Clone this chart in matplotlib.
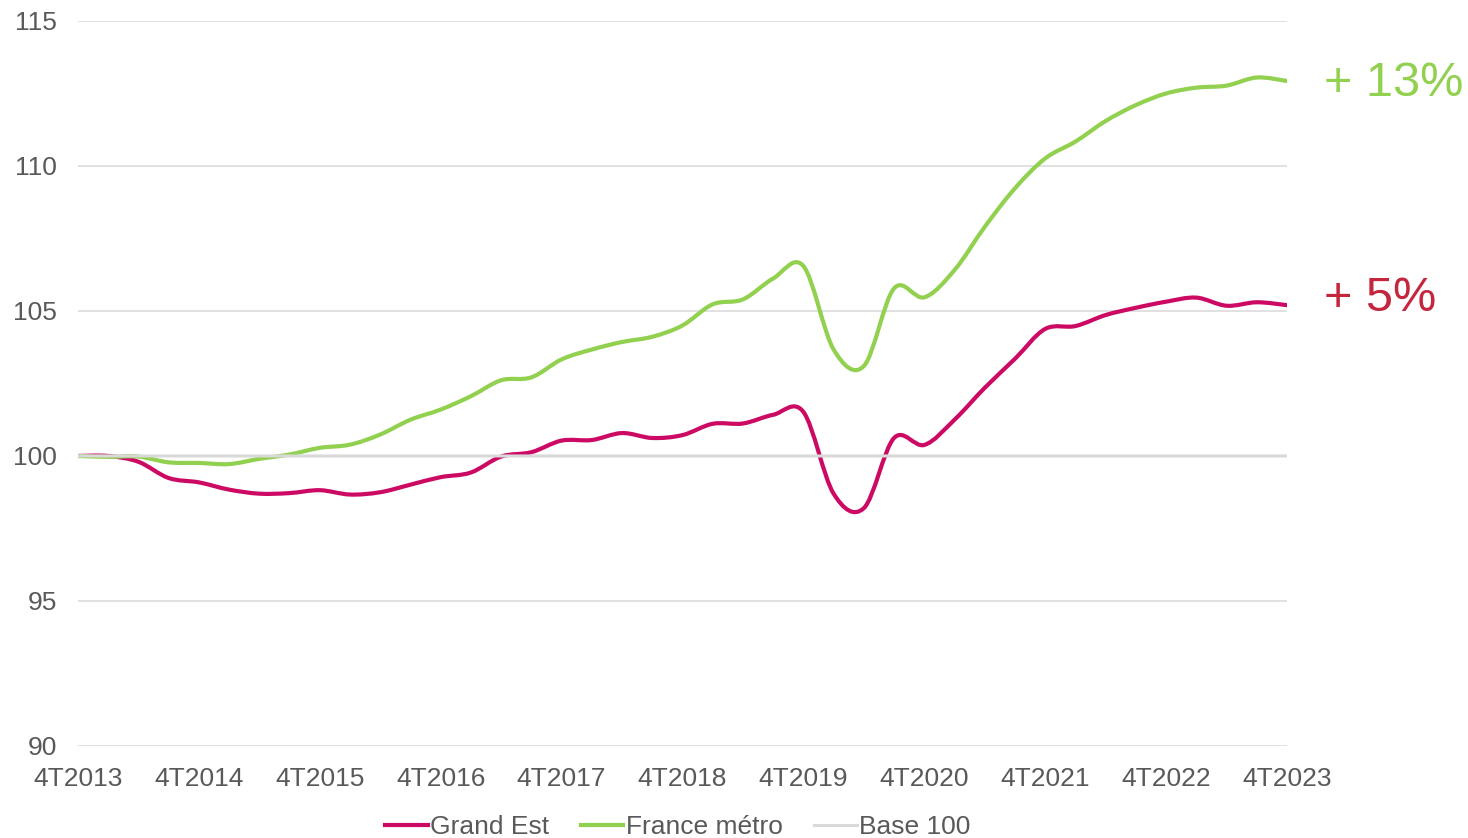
import numpy as np
import matplotlib.pyplot as plt
from matplotlib.path import Path
from matplotlib.patches import PathPatch
from matplotlib.lines import Line2D

plt.rcParams['font.family'] = ['Liberation Sans', 'DejaVu Sans']

# quarterly index, base 100 at 4T2013
tick_labels = ['4T2013', '4T2014', '4T2015', '4T2016', '4T2017', '4T2018',
               '4T2019', '4T2020', '4T2021', '4T2022', '4T2023']

grand_est = [100.0, 100.0, 99.8, 99.24, 99.09, 98.84, 98.7, 98.72, 98.82, 98.67,
             98.75, 99.01, 99.27, 99.43, 99.98, 100.13, 100.53, 100.55, 100.79, 100.62,
             100.72, 101.11, 101.12, 101.42, 101.52, 98.7, 98.2, 100.62, 100.38, 101.25,
             102.35, 103.35, 104.38, 104.48, 104.86, 105.11, 105.32, 105.46, 105.18, 105.3,
             105.2]

france = [100.0, 99.97, 99.98, 99.78, 99.76, 99.72, 99.9, 100.05, 100.28, 100.39,
          100.74, 101.25, 101.6, 102.06, 102.61, 102.71, 103.33, 103.67, 103.93, 104.11,
          104.5, 105.23, 105.4, 106.12, 106.55, 103.67, 103.1, 105.78, 105.47, 106.41,
          107.9, 109.23, 110.26, 110.84, 111.55, 112.1, 112.5, 112.7, 112.77, 113.05,
          112.93]

base = [100.0] * len(grand_est)

PINK = '#CC0A64'
GREEN = '#92D050'
GREY = '#D9D9D9'
TXT = '#595959'


def smooth_path(x, y):
    # excel-like smoothed line: cubic bezier through every point
    x = np.asarray(x, float)
    y = np.asarray(y, float)
    n = len(x)
    verts = [(x[0], y[0])]
    codes = [Path.MOVETO]
    for i in range(n - 1):
        p0 = np.array([x[max(i - 1, 0)], y[max(i - 1, 0)]])
        p1 = np.array([x[i], y[i]])
        p2 = np.array([x[i + 1], y[i + 1]])
        p3 = np.array([x[min(i + 2, n - 1)], y[min(i + 2, n - 1)]])
        c1 = p1 + (p2 - p0) / 6
        c2 = p2 - (p3 - p1) / 6
        verts += [tuple(c1), tuple(c2), tuple(p2)]
        codes += [Path.CURVE4] * 3
    return Path(verts, codes)


fig = plt.figure(figsize=(14.68, 8.38), dpi=100)
ax = fig.add_axes([0.0531, 0.1098, 0.8236, 0.8652])

x = np.arange(len(grand_est))
for ys, col, lw in [(grand_est, PINK, 3.0), (france, GREEN, 3.0), (base, GREY, 2.2)]:
    ax.add_patch(PathPatch(smooth_path(x, ys), facecolor='none', edgecolor=col,
                           lw=lw, capstyle='round', joinstyle='round', zorder=3))

ax.set_xlim(0, 40)
ax.set_ylim(90, 115)
ax.set_yticks(np.arange(90, 116, 5))
ax.set_xticks(np.arange(0, 41, 4))
ax.set_xticklabels(tick_labels)
ax.grid(axis='y', color=GREY, lw=1.1)
ax.set_axisbelow(True)
for s in ax.spines.values():
    s.set_visible(False)
ax.tick_params(length=0, labelsize=19, labelcolor=TXT)
ax.tick_params(axis='y', pad=15)
ax.tick_params(axis='x', pad=15)

ax.annotate('+ 13%', xy=(40, france[-1]), xytext=(27, -1.5), textcoords='offset points',
            fontsize=35, color=GREEN, va='center', ha='left', annotation_clip=False)
ax.annotate('+ 5%', xy=(40, grand_est[-1]), xytext=(27, 5), textcoords='offset points',
            fontsize=35, color='#C4263E', va='center', ha='left', annotation_clip=False)

handles = [Line2D([], [], color=PINK, lw=3),
           Line2D([], [], color=GREEN, lw=3),
           Line2D([], [], color=GREY, lw=2.2)]
fig.legend(handles, ['Grand Est', 'France métro', 'Base 100'], loc='center',
           bbox_to_anchor=(678 / 1468, 1 - 827 / 838), ncol=3, frameon=False,
           fontsize=19, labelcolor=TXT, handlelength=1.6, handletextpad=0.1,
           columnspacing=1.2)

fig.savefig('out.png', dpi=100)
